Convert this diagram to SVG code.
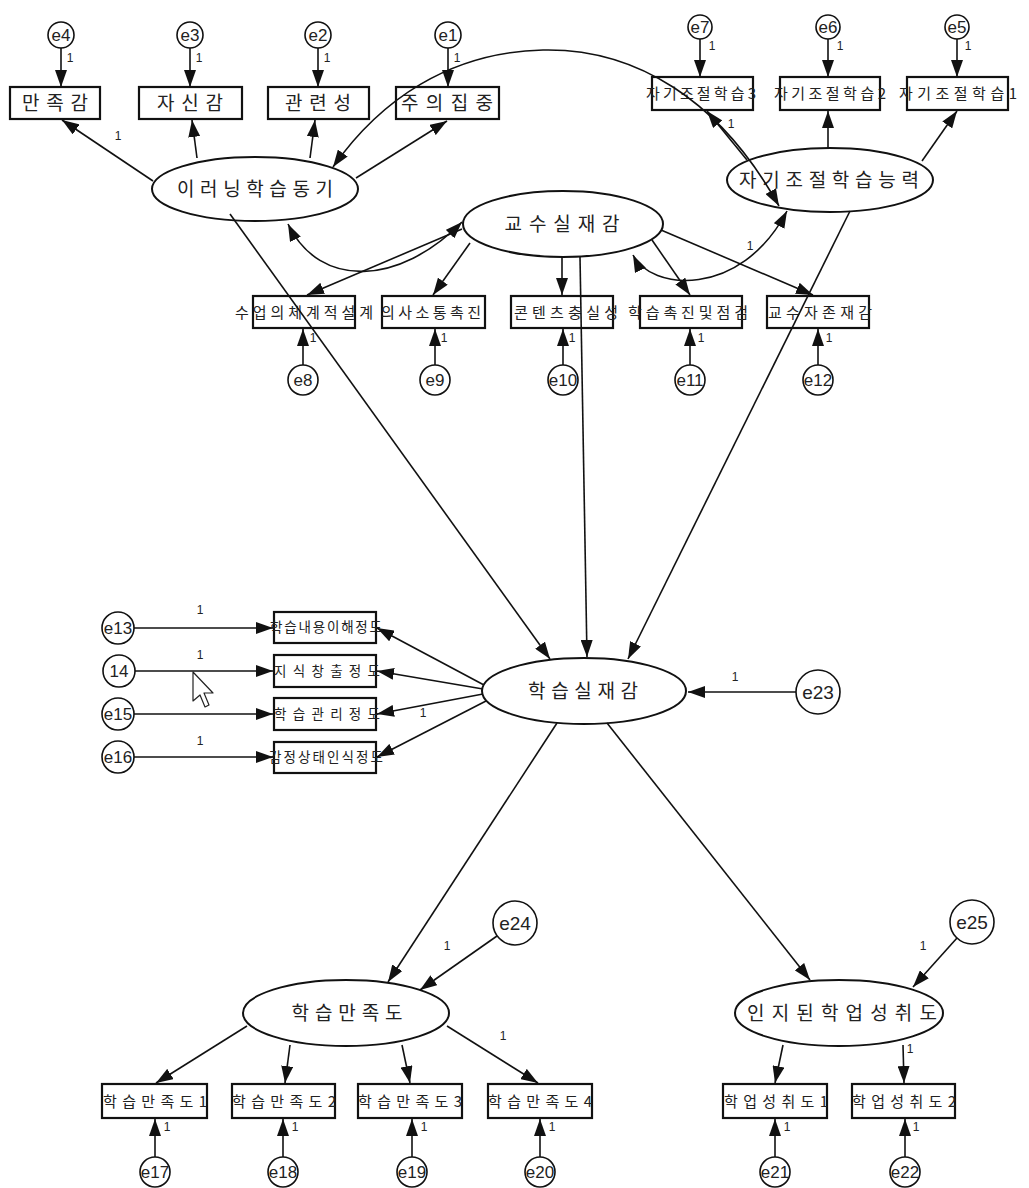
<svg xmlns="http://www.w3.org/2000/svg" width="1029" height="1188" viewBox="0 0 1029 1188">
<style>
  .box{fill:#fff;stroke:#111;stroke-width:2.2}
  .lat{fill:#fff;stroke:#111;stroke-width:2}
  .err{fill:#fff;stroke:#111;stroke-width:1.6}
  .kr{font-family:"Noto Sans CJK KR","Noto Sans",sans-serif;fill:#222;text-anchor:middle}
  .big{font-size:19px}
  .mid{font-size:15px}
  .sm{font-size:13.5px}
  .en{font-family:"Liberation Sans",Arial,sans-serif;fill:#222;text-anchor:middle;font-size:17px}
  .enl{font-size:19px}
  .one{font-family:"Liberation Sans",Arial,sans-serif;fill:#222;font-size:12px;text-anchor:middle}
  .c{stroke:#111;stroke-width:1.6;fill:none;marker-end:url(#ah)}
  .cb{stroke:#111;stroke-width:1.6;fill:none;marker-end:url(#ah);marker-start:url(#ah)}
</style>
<defs>
  <marker id="ah" markerUnits="userSpaceOnUse" viewBox="0 0 18 12" markerWidth="18" markerHeight="12" refX="17" refY="6" orient="auto-start-reverse">
    <path d="M0,0 L17,6 L0,12 z" fill="#111"/>
  </marker>
</defs>
<rect width="1029" height="1188" fill="#fff"/>

<!-- latent variables -->
<g id="n-elearning-motivation"><ellipse class="lat" cx="255" cy="189" rx="103" ry="32"/><text class="kr big" x="255" y="196" textLength="156" lengthAdjust="spacing">이러닝학습동기</text></g>
<g id="n-teaching-presence"><ellipse class="lat" cx="563" cy="224" rx="100" ry="33"/><text class="kr big" x="562" y="231" textLength="115" lengthAdjust="spacing">교수실재감</text></g>
<g id="n-self-regulation"><ellipse class="lat" cx="830" cy="180" rx="103" ry="32"/><text class="kr big" x="829" y="187" textLength="180" lengthAdjust="spacing">자기조절학습능력</text></g>
<g id="n-learning-presence"><ellipse class="lat" cx="584" cy="691" rx="102" ry="33"/><text class="kr big" x="583" y="698" textLength="110" lengthAdjust="spacing">학습실재감</text></g>
<g id="n-satisfaction"><ellipse class="lat" cx="346" cy="1013" rx="103" ry="33"/><text class="kr big" x="347" y="1020" textLength="111" lengthAdjust="spacing">학습만족도</text></g>
<g id="n-achievement"><ellipse class="lat" cx="839" cy="1013" rx="104" ry="33"/><text class="kr big" x="842" y="1020" textLength="190" lengthAdjust="spacing">인지된학업성취도</text></g>

<!-- observed variables: e-learning motivation -->
<g id="n-manjok"><rect class="box" x="10" y="87" width="90" height="32"/><text class="kr big" x="55" y="110" textLength="66" lengthAdjust="spacing">만족감</text></g>
<g id="n-jasin"><rect class="box" x="139" y="87" width="103" height="32"/><text class="kr big" x="190" y="110" textLength="66" lengthAdjust="spacing">자신감</text></g>
<g id="n-gwanryeon"><rect class="box" x="268" y="87" width="101" height="32"/><text class="kr big" x="318" y="110" textLength="66" lengthAdjust="spacing">관련성</text></g>
<g id="n-juui"><rect class="box" x="396" y="87" width="103" height="32"/><text class="kr big" x="447" y="110" textLength="92" lengthAdjust="spacing">주의집중</text></g>

<!-- observed variables: self-regulated learning -->
<g id="n-sr3"><rect class="box" x="652" y="77" width="101" height="33"/><text class="kr mid" x="701" y="99" textLength="110" lengthAdjust="spacing">자기조절학습3</text></g>
<g id="n-sr2"><rect class="box" x="780" y="77" width="100" height="33"/><text class="kr mid" x="830" y="99" textLength="112" lengthAdjust="spacing">자기조절학습2</text></g>
<g id="n-sr1"><rect class="box" x="907" y="77" width="101" height="33"/><text class="kr mid" x="958" y="99" textLength="118" lengthAdjust="spacing">자기조절학습1</text></g>

<!-- observed variables: teaching presence -->
<g id="n-design"><rect class="box" x="253" y="296" width="102" height="32"/><text class="kr mid" x="304" y="318" textLength="138" lengthAdjust="spacing">수업의체계적설계</text></g>
<g id="n-comm"><rect class="box" x="382" y="296" width="103" height="32"/><text class="kr mid" x="431" y="318" textLength="100" lengthAdjust="spacing">의사소통촉진</text></g>
<g id="n-content"><rect class="box" x="511" y="296" width="102" height="32"/><text class="kr mid" x="566" y="318" textLength="104" lengthAdjust="spacing">콘텐츠충실성</text></g>
<g id="n-facilitate"><rect class="box" x="640" y="296" width="102" height="32"/><text class="kr mid" x="688" y="318" textLength="120" lengthAdjust="spacing">학습촉진및점검</text></g>
<g id="n-instructor"><rect class="box" x="767" y="296" width="102" height="32"/><text class="kr mid" x="820" y="318" textLength="104" lengthAdjust="spacing">교수자존재감</text></g>

<!-- observed variables: learning presence -->
<g id="n-understand"><rect class="box" x="274" y="612" width="102" height="31"/><text class="kr sm" x="326" y="632" textLength="112" lengthAdjust="spacing">학습내용이해정도</text></g>
<g id="n-knowledge"><rect class="box" x="274" y="655" width="102" height="32"/><text class="kr sm" x="327" y="676" textLength="106" lengthAdjust="spacing">지식창출정도</text></g>
<g id="n-manage"><rect class="box" x="274" y="698" width="102" height="32"/><text class="kr sm" x="327" y="719" textLength="106" lengthAdjust="spacing">학습관리정도</text></g>
<g id="n-emotion"><rect class="box" x="274" y="742" width="102" height="31"/><text class="kr sm" x="326" y="762" textLength="114" lengthAdjust="spacing">감정상태인식정도</text></g>

<!-- observed variables: outcomes -->
<g id="n-sat1"><rect class="box" x="102" y="1084" width="105" height="34"/><text class="kr mid" x="155" y="1107" textLength="104" lengthAdjust="spacing">학습만족도1</text></g>
<g id="n-sat2"><rect class="box" x="232" y="1084" width="103" height="34"/><text class="kr mid" x="284" y="1107" textLength="104" lengthAdjust="spacing">학습만족도2</text></g>
<g id="n-sat3"><rect class="box" x="358" y="1084" width="104" height="34"/><text class="kr mid" x="410" y="1107" textLength="104" lengthAdjust="spacing">학습만족도3</text></g>
<g id="n-sat4"><rect class="box" x="488" y="1084" width="104" height="34"/><text class="kr mid" x="540" y="1107" textLength="104" lengthAdjust="spacing">학습만족도4</text></g>
<g id="n-ach1"><rect class="box" x="723" y="1084" width="104" height="34"/><text class="kr mid" x="776" y="1107" textLength="104" lengthAdjust="spacing">학업성취도1</text></g>
<g id="n-ach2"><rect class="box" x="852" y="1084" width="103" height="34"/><text class="kr mid" x="904" y="1107" textLength="104" lengthAdjust="spacing">학업성취도2</text></g>

<!-- error terms -->
<g id="n-e4"><circle class="err" cx="61" cy="35" r="13"/><text class="en" x="61" y="41">e4</text></g>
<g id="n-e3"><circle class="err" cx="190" cy="35" r="13"/><text class="en" x="190" y="41">e3</text></g>
<g id="n-e2"><circle class="err" cx="318" cy="35" r="13"/><text class="en" x="318" y="41">e2</text></g>
<g id="n-e1"><circle class="err" cx="448" cy="35" r="13"/><text class="en" x="448" y="41">e1</text></g>
<g id="n-e7"><circle class="err" cx="700" cy="27" r="12"/><text class="en" x="700" y="33">e7</text></g>
<g id="n-e6"><circle class="err" cx="828" cy="27" r="12"/><text class="en" x="828" y="33">e6</text></g>
<g id="n-e5"><circle class="err" cx="957" cy="27" r="12"/><text class="en" x="957" y="33">e5</text></g>
<g id="n-e8"><circle class="err" cx="303" cy="380" r="15"/><text class="en" x="303" y="386">e8</text></g>
<g id="n-e9"><circle class="err" cx="435" cy="380" r="15"/><text class="en" x="435" y="386">e9</text></g>
<g id="n-e10"><circle class="err" cx="563" cy="380" r="15"/><text class="en" x="563" y="386">e10</text></g>
<g id="n-e11"><circle class="err" cx="690" cy="380" r="15"/><text class="en" x="690" y="386">e11</text></g>
<g id="n-e12"><circle class="err" cx="818" cy="380" r="15"/><text class="en" x="818" y="386">e12</text></g>
<g id="n-e13"><circle class="err" cx="118" cy="628" r="16"/><text class="en" x="118" y="634">e13</text></g>
<g id="n-e14"><circle class="err" cx="119" cy="671" r="16"/><text class="en" x="119" y="677">14</text></g>
<g id="n-e15"><circle class="err" cx="118" cy="714" r="16"/><text class="en" x="118" y="720">e15</text></g>
<g id="n-e16"><circle class="err" cx="118" cy="757" r="16"/><text class="en" x="118" y="763">e16</text></g>
<g id="n-e23"><circle class="err" cx="818" cy="692" r="22"/><text class="en enl" x="818" y="699">e23</text></g>
<g id="n-e24"><circle class="err" cx="515" cy="923" r="22"/><text class="en enl" x="515" y="930">e24</text></g>
<g id="n-e25"><circle class="err" cx="972" cy="922" r="22"/><text class="en enl" x="972" y="929">e25</text></g>
<g id="n-e17"><circle class="err" cx="155" cy="1172" r="15"/><text class="en" x="155" y="1178">e17</text></g>
<g id="n-e18"><circle class="err" cx="283" cy="1172" r="15"/><text class="en" x="283" y="1178">e18</text></g>
<g id="n-e19"><circle class="err" cx="412" cy="1172" r="15"/><text class="en" x="412" y="1178">e19</text></g>
<g id="n-e20"><circle class="err" cx="540" cy="1172" r="15"/><text class="en" x="540" y="1178">e20</text></g>
<g id="n-e21"><circle class="err" cx="775" cy="1172" r="15"/><text class="en" x="775" y="1178">e21</text></g>
<g id="n-e22"><circle class="err" cx="905" cy="1172" r="15"/><text class="en" x="905" y="1178">e22</text></g>

<!-- paths, loadings and covariances -->
<g id="connectors">
  <path class="c" d="M61,48 L61,87"/>
  <path class="c" d="M190,48 L190,87"/>
  <path class="c" d="M318,48 L318,87"/>
  <path class="c" d="M448,48 L448,87"/>
  <path class="c" d="M153,181 L62,120"/>
  <path class="c" d="M197,158 L192,120"/>
  <path class="c" d="M310,158 L315,120"/>
  <path class="c" d="M356,178 L447,121"/>

  <path class="c" d="M700,39 L700,77"/>
  <path class="c" d="M828,39 L828,77"/>
  <path class="c" d="M957,39 L957,77"/>
  <path class="c" d="M747,160 L707,111"/>
  <path class="c" d="M828,148 L828,111"/>
  <path class="c" d="M922,161 L957,111"/>

  <path class="c" d="M462,229 L307,295"/>
  <path class="c" d="M470,243 L433,295"/>
  <path class="c" d="M562,258 L562,295"/>
  <path class="c" d="M652,240 L690,295"/>
  <path class="c" d="M661,230 L813,295"/>
  <path class="c" d="M303,365 L303,329"/>
  <path class="c" d="M435,365 L435,329"/>
  <path class="c" d="M563,365 L563,329"/>
  <path class="c" d="M690,365 L690,329"/>
  <path class="c" d="M818,365 L818,329"/>

  <path class="cb" d="M333,167 C380,100 450,52 543,50 S720,100 779,206"/>
  <path class="cb" d="M462,222 C400,285 320,290 288,224"/>
  <path class="cb" d="M633,255 C650,290 740,300 787,211"/>

  <path class="c" d="M230,214 L550,659"/>
  <path class="c" d="M580,257 L587,657"/>
  <path class="c" d="M850,211 L628,659"/>
  <path class="c" d="M796,692 L688,692"/>

  <path class="c" d="M484,685 L377,628"/>
  <path class="c" d="M483,689 L377,671"/>
  <path class="c" d="M483,694 L377,714"/>
  <path class="c" d="M486,701 L377,757"/>
  <path class="c" d="M134,628 L273,628"/>
  <path class="c" d="M135,671 L273,671"/>
  <path class="c" d="M134,714 L273,714"/>
  <path class="c" d="M134,757 L273,757"/>

  <path class="c" d="M557,723 L388,982"/>
  <path class="c" d="M607,723 L810,980"/>
  <path class="c" d="M497,936 L420,990"/>
  <path class="c" d="M957,938 L913,987"/>

  <path class="c" d="M247,1026 L156,1083"/>
  <path class="c" d="M290,1045 L285,1083"/>
  <path class="c" d="M402,1045 L410,1083"/>
  <path class="c" d="M447,1026 L538,1083"/>
  <path class="c" d="M155,1157 L155,1119"/>
  <path class="c" d="M283,1157 L283,1119"/>
  <path class="c" d="M412,1157 L412,1119"/>
  <path class="c" d="M540,1157 L540,1119"/>
  <path class="c" d="M783,1045 L775,1083"/>
  <path class="c" d="M903,1045 L904,1083"/>
  <path class="c" d="M775,1157 L775,1119"/>
  <path class="c" d="M905,1157 L905,1119"/>
</g>

<!-- fixed parameter labels -->
<g id="weights">
  <text class="one" x="70" y="62">1</text>
  <text class="one" x="199" y="62">1</text>
  <text class="one" x="327" y="62">1</text>
  <text class="one" x="457" y="62">1</text>
  <text class="one" x="118" y="140">1</text>
  <text class="one" x="712" y="50">1</text>
  <text class="one" x="840" y="50">1</text>
  <text class="one" x="968" y="50">1</text>
  <text class="one" x="731" y="128">1</text>
  <text class="one" x="750" y="250">1</text>
  <text class="one" x="313" y="342">1</text>
  <text class="one" x="444" y="342">1</text>
  <text class="one" x="572" y="342">1</text>
  <text class="one" x="701" y="342">1</text>
  <text class="one" x="829" y="342">1</text>
  <text class="one" x="200" y="614">1</text>
  <text class="one" x="200" y="659">1</text>
  <text class="one" x="200" y="745">1</text>
  <text class="one" x="423" y="717">1</text>
  <text class="one" x="735" y="681">1</text>
  <text class="one" x="447" y="950">1</text>
  <text class="one" x="923" y="950">1</text>
  <text class="one" x="503" y="1040">1</text>
  <text class="one" x="910" y="1053">1</text>
  <text class="one" x="167" y="1131">1</text>
  <text class="one" x="295" y="1131">1</text>
  <text class="one" x="424" y="1131">1</text>
  <text class="one" x="552" y="1131">1</text>
  <text class="one" x="787" y="1131">1</text>
  <text class="one" x="916" y="1131">1</text>
</g>

<!-- mouse pointer -->
<path d="M193,672 L193,701 L200,695 L205,707 L209,705 L204,693 L213,693 Z" fill="#fff" stroke="#222" stroke-width="1.2" stroke-linejoin="round"/>
</svg>
